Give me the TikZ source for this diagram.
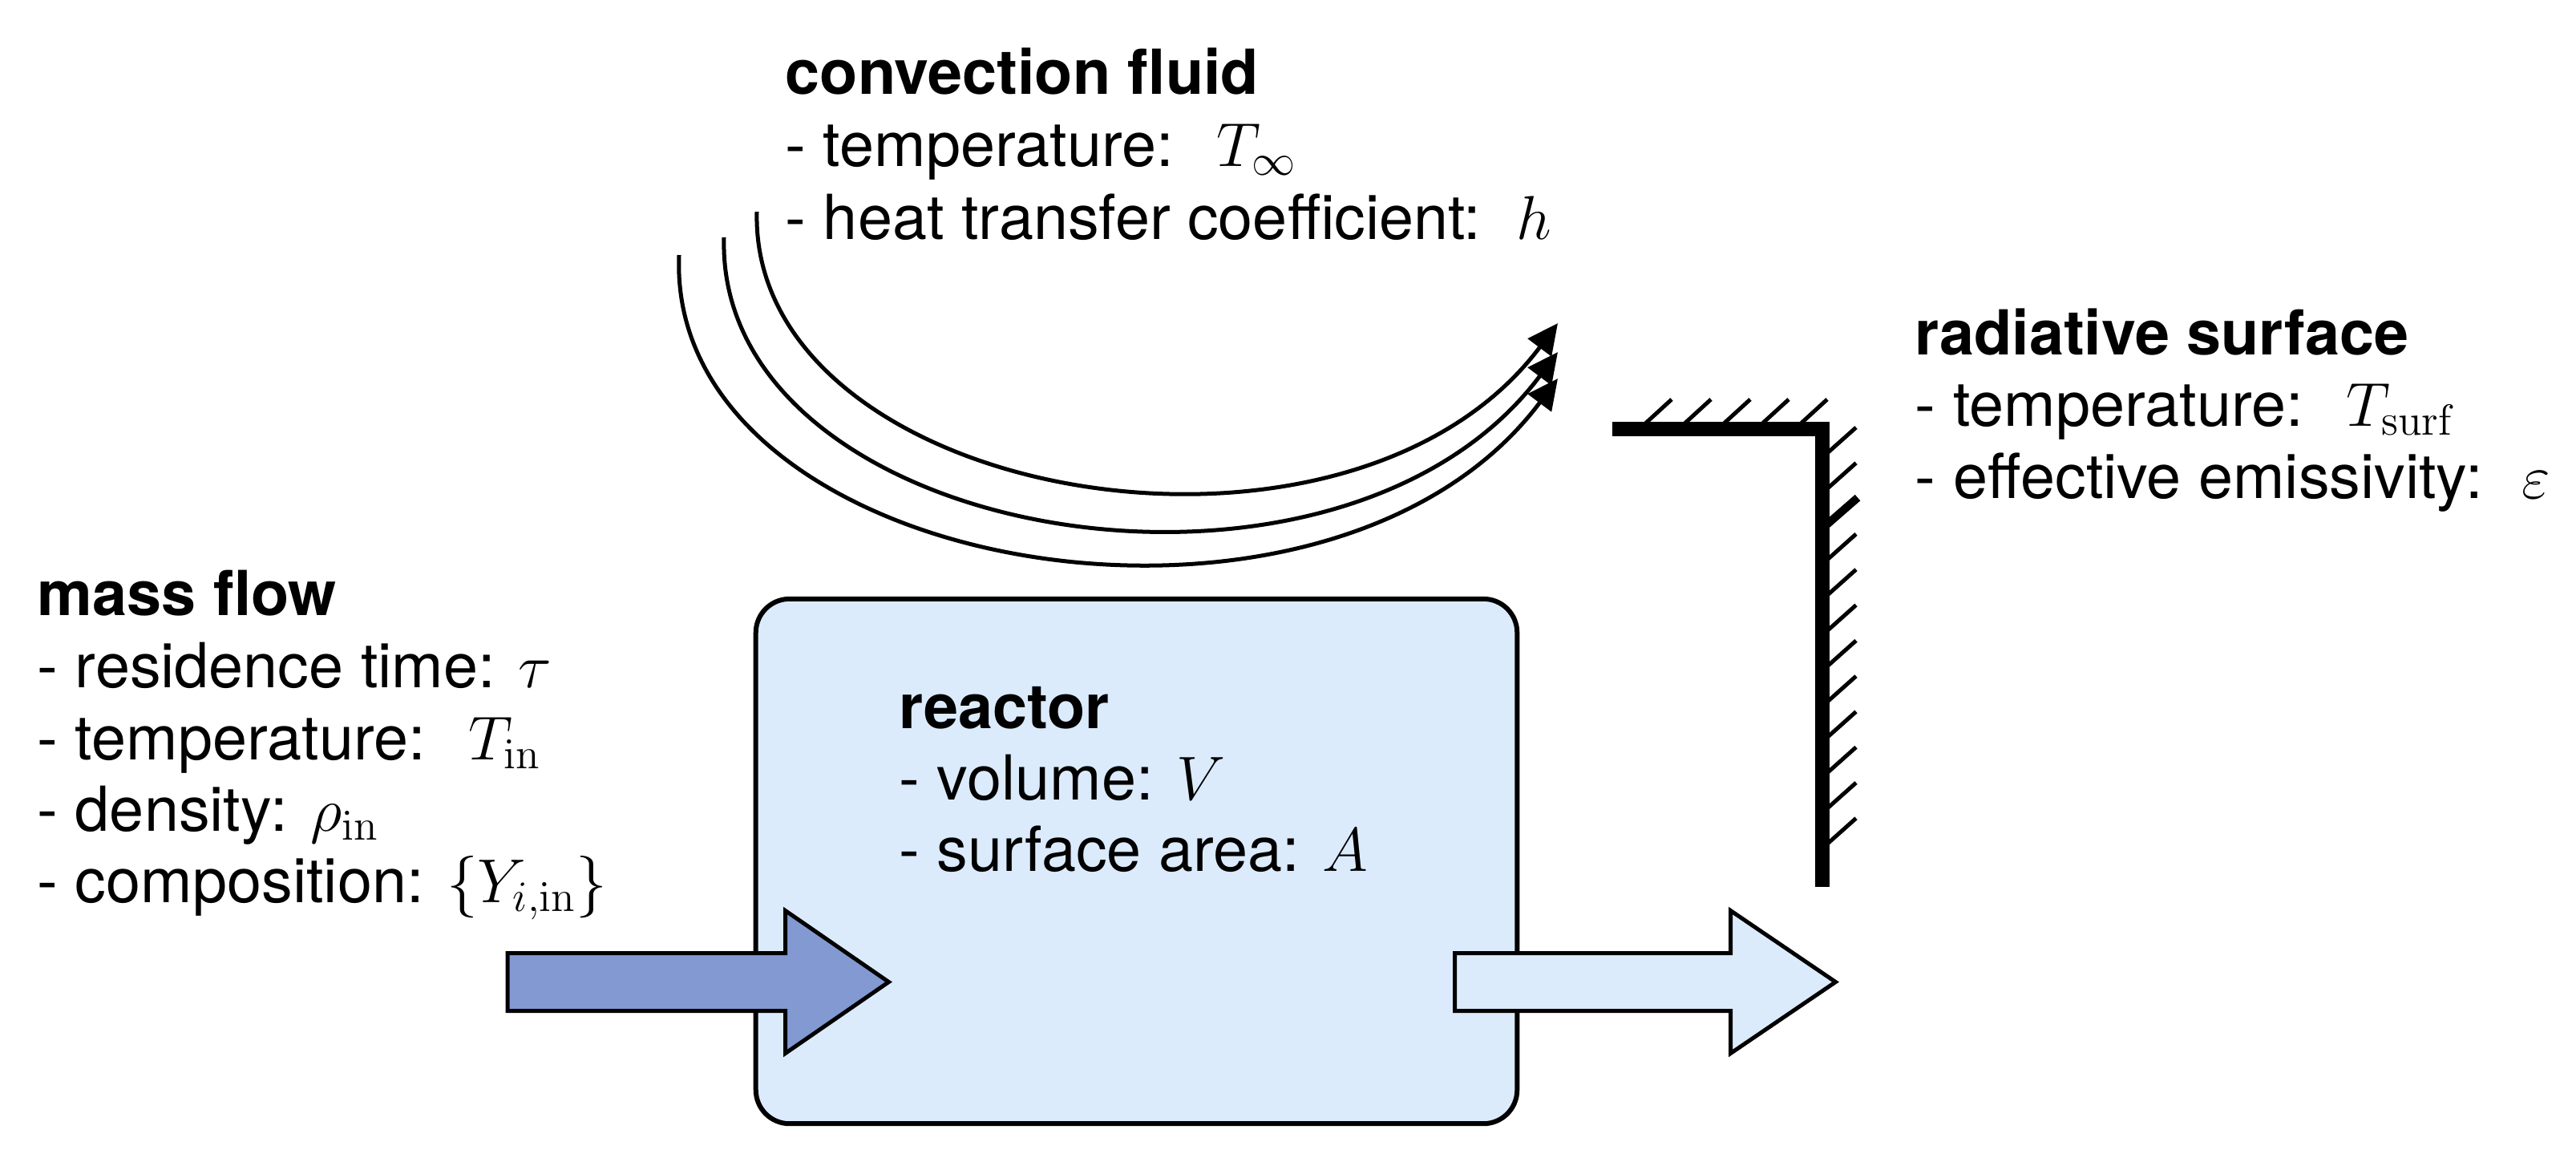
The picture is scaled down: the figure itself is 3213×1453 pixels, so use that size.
\RequirePackage{fix-cm}
\documentclass[tikz,border=0pt]{standalone}
\usepackage[no-math]{fontspec}
\newfontfamily\hv{TeX Gyre Heros}
\usetikzlibrary{arrows.meta}
\definecolor{reactorfill}{RGB}{219,235,252}
\definecolor{inletfill}{RGB}{130,153,210}
\begin{document}
\begin{tikzpicture}[x=0.01cm,y=-0.01cm,
  txt/.style={anchor=base west, inner sep=0pt, font=\hv\fontsize{22}{26}\selectfont},
  ttl/.style={anchor=base west, inner sep=0pt, font=\hv\bfseries\fontsize{22}{26}\selectfont},
  flowarc/.style={line width=0.05cm, -{Triangle[length=0.38cm,width=0.36cm]}},
  wallline/.style={line width=0.18cm, line join=miter},
  hatchline/.style={line width=0.05cm},
  reactorbox/.style={draw, line width=0.06cm, fill=reactorfill, rounded corners=0.42cm,
    minimum width=9.49cm, minimum height=6.54cm, inner sep=0pt},
  blockarrow/.style={draw, line width=0.05cm, line join=miter},
]
\useasboundingbox (0,0) rectangle (3213,1453);

% convection arcs
\coordinate (a1s) at (944,264);  \coordinate (a1e) at (1943,403);
\coordinate (a2s) at (903,296);  \coordinate (a2e) at (1943,439);
\coordinate (a3s) at (847,318);  \coordinate (a3e) at (1943,472);
\draw[flowarc] (a1s) .. controls (935,624) and (1679,755) .. (a1e);
\draw[flowarc] (a2s) .. controls (892,676) and (1667,807) .. (a2e);
\draw[flowarc] (a3s) .. controls (830,718) and (1655,856) .. (a3e);

% radiative wall
\coordinate (w1) at (2011,535);
\coordinate (w2) at (2273,535);
\coordinate (w3) at (2273,1106);
\draw[wallline] (w1) -- (w2) -- (w3);
\foreach \x in {2050,2099,2148,2196,2244}
  \draw[hatchline] (\x,530) -- ++(35,-32);
\foreach \k in {0,1,3,4,5,6,7,8,9,10,11}
  \draw[hatchline] (2278,{566+44.3*\k}) -- ++(37,-33);
\draw[line width=0.1cm] (2278,{566+44.3*2}) -- ++(39,-34);

% reactor
\node[reactorbox] (reactor) at (1417.5,1074) {};

% inlet and outlet block arrows
\draw[blockarrow, fill=inletfill] (633,1188.5) -- (979.5,1188.5) -- (979.5,1135.5) -- (1108.5,1224.5)
  -- (979.5,1313.5) -- (979.5,1260.5) -- (633,1260.5) -- cycle;
\draw[blockarrow, fill=reactorfill] (1814.5,1188.5) -- (2158.5,1188.5) -- (2158.5,1135.5) -- (2289.5,1224.5)
  -- (2158.5,1313.5) -- (2158.5,1260.5) -- (1814.5,1260.5) -- cycle;

% mass flow text
\node[ttl] (mf0) at (46,767) {mass flow};
\node[txt] (mf1) at (46,857) {- residence time: $\tau$};
\node[txt] (mf2) at (46,947) {- temperature:\hspace{0.32em} $T_\mathrm{in}$};
\node[txt] (mf3) at (46,1036) {- density: $\rho_\mathrm{in}$};
\node[txt] (mf4) at (46,1125) {- composition: $\{Y_{i,\mathrm{in}}\}$};

% convection text
\node[ttl] (cf0) at (979,117) {convection fluid};
\node[txt] (cf1) at (979,207) {- temperature:\hspace{0.32em} $T_\infty$};
\node[txt] (cf2) at (979,298) {- heat transfer coefficient:\hspace{0.2em} $h$};

% radiative text
\node[ttl] (rs0) at (2388,442) {radiative surface};
\node[txt] (rs1) at (2388,531) {- temperature:\hspace{0.32em} $T_\mathrm{surf}$};
\node[txt] (rs2) at (2388,621) {- effective emissivity:\hspace{0.25em} $\varepsilon$};

% reactor text
\node[ttl] (re0) at (1121,908) {reactor};
\node[txt] (re1) at (1121,997) {- volume: $V$};
\node[txt] (re2) at (1121,1086) {- surface area: $A$};
\end{tikzpicture}
\end{document}
